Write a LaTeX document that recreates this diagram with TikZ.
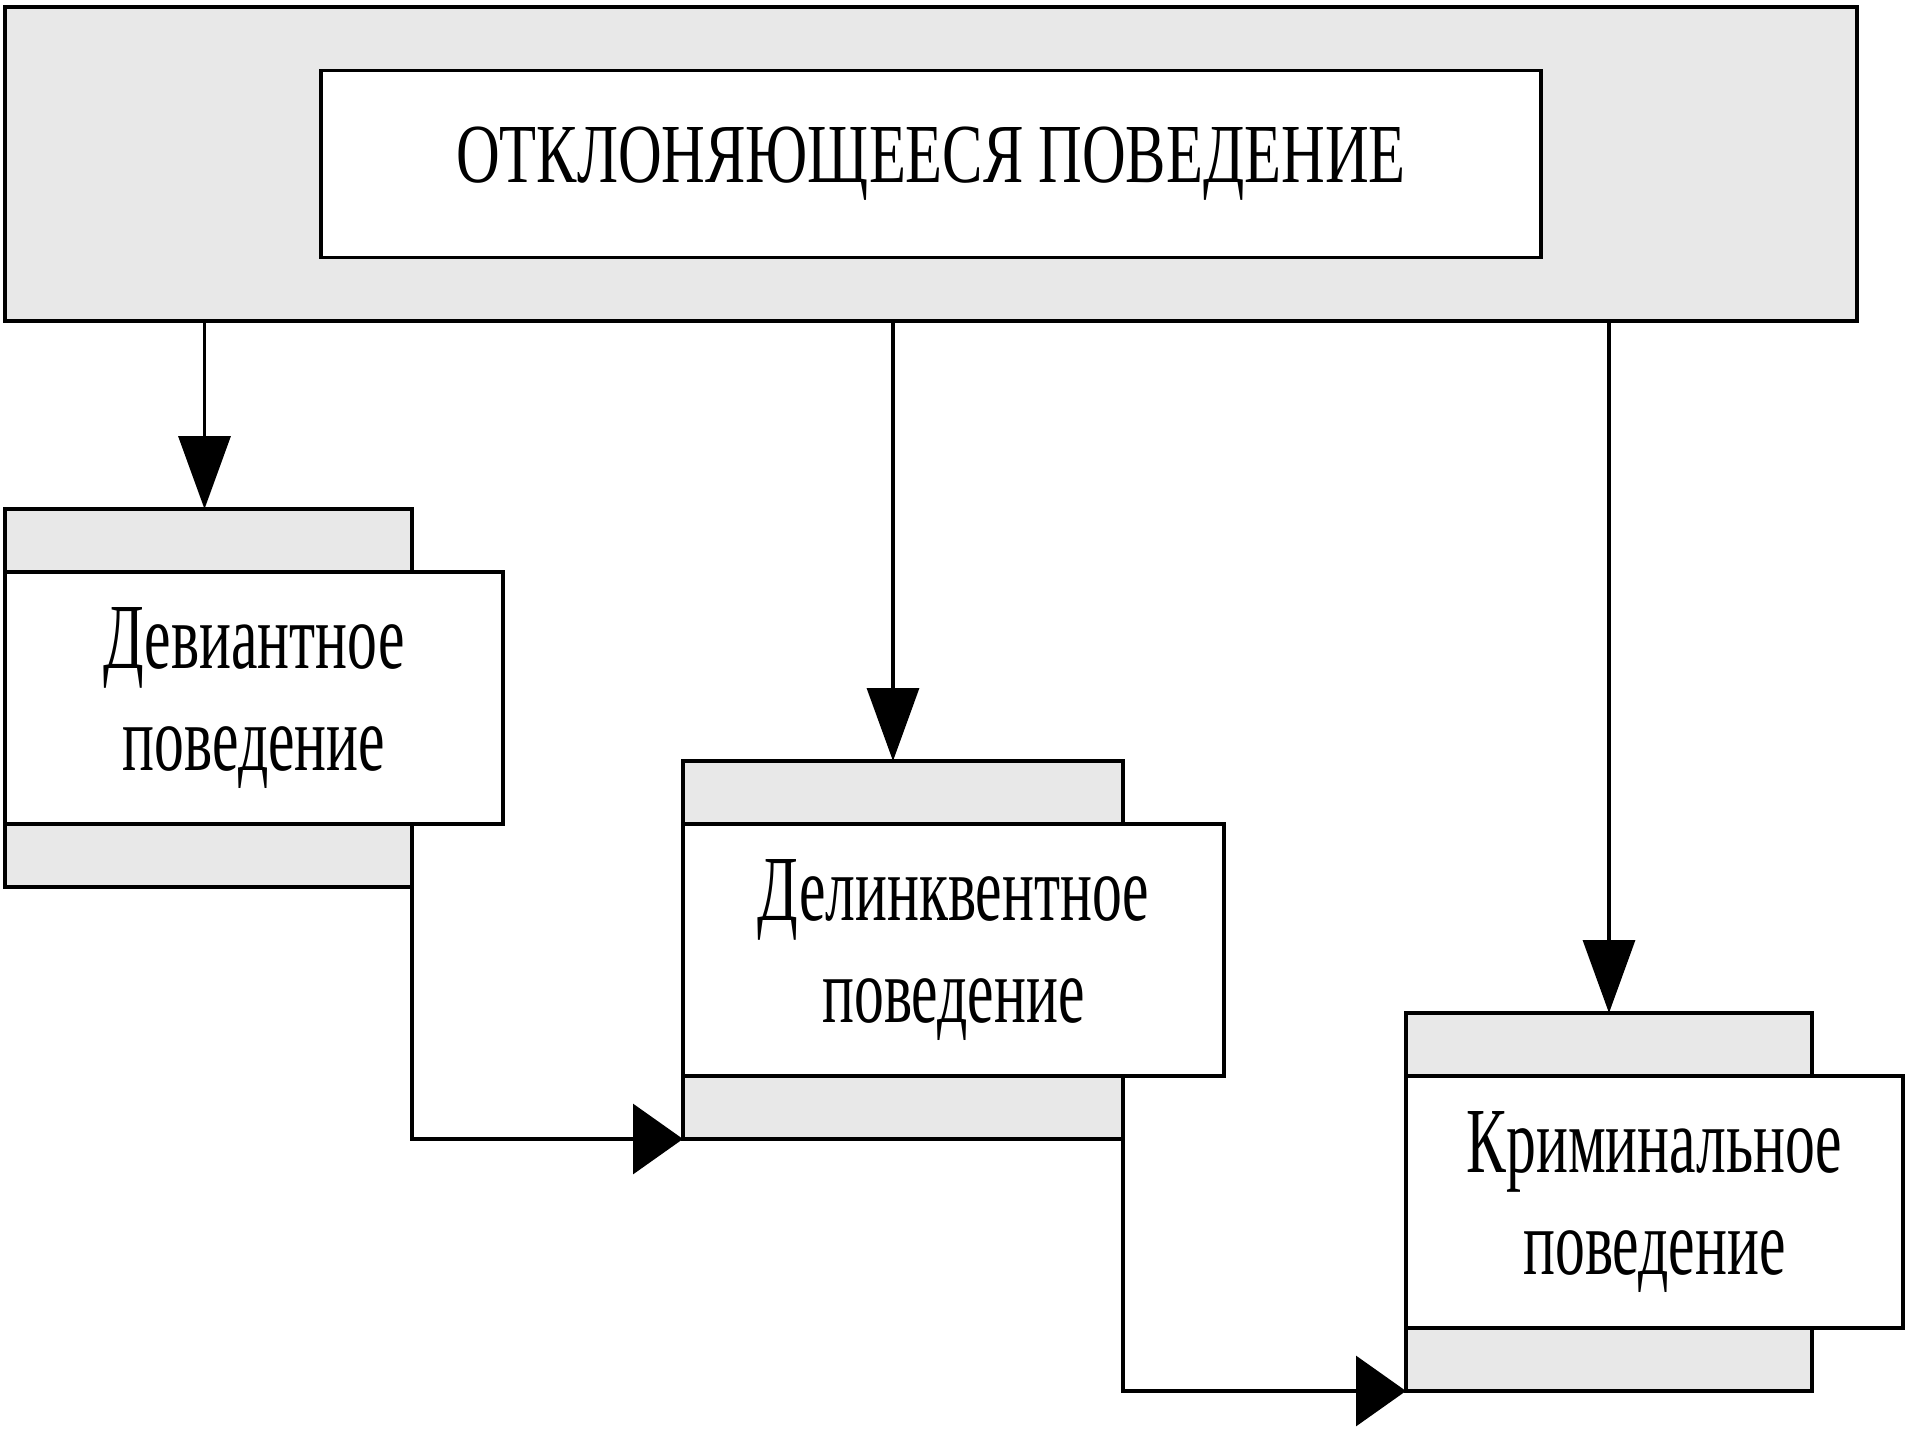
\documentclass[tikz,border=0pt]{standalone}
\usepackage{fontspec}
\setmainfont{Liberation Serif}
\newfontfamily\titlefont[FakeStretch=0.72]{Liberation Serif}
\newfontfamily\cardfont[FakeStretch=0.64]{Liberation Serif}
\usetikzlibrary{positioning}
\usetikzlibrary{arrows.meta}
\definecolor{tabgray}{RGB}{232,232,232}
\tikzset{
	every path/.style={line width=0.034cm},
	frame/.style={draw, fill=tabgray, minimum width=18.52cm, minimum height=3.14cm, inner sep=0pt, outer sep=0pt},
	titlebox/.style={draw, fill=white, minimum width=12.2cm, minimum height=1.87cm, outer sep=0pt, font=\titlefont\fontsize{23.9}{28}\selectfont},
	card/.style={draw, fill=white, minimum height=2.52cm, inner sep=0pt, outer sep=0pt, align=center, font=\cardfont\fontsize{26.5}{29.2}\selectfont},
	tab/.style={draw, fill=tabgray, minimum height=0.63cm, inner sep=0pt, outer sep=0pt},
	downarrow/.style={-{Triangle[length=0.73cm, width=0.52cm]}},
	sidearrow/.style={-{Triangle[length=0.5cm, width=0.7cm]}}
}

\begin{document}
\begin{tikzpicture}
	\useasboundingbox[fill=white] (0,0) rectangle (19.07,-14.40);
	% Top block
	\node (deviation) [frame] at (9.31,-1.64) {};
	\node (title) [titlebox] at (deviation.center) {ОТКЛОНЯЮЩЕЕСЯ ПОВЕДЕНИЕ};
	
	% Kinds of behaviour
	\node (deviant) [card, minimum width=4.98cm, anchor=north west] at (0.05,-5.72) {Девиантное\\поведение};
	\node (devianttop) [tab, minimum width=4.07cm, above right=0cm and 0cm of deviant.north west] {};
	\node (deviantbot) [tab, minimum width=4.07cm, below right=0cm and 0cm of deviant.south west] {};
	
	\node (delinq) [card, minimum width=5.41cm, anchor=north west] at (6.83,-8.24) {Делинквентное\\поведение};
	\node (delinqtop) [tab, minimum width=4.40cm, above right=0cm and 0cm of delinq.north west] {};
	\node (delinqbot) [tab, minimum width=4.40cm, below right=0cm and 0cm of delinq.south west] {};
	
	\node (crim) [card, minimum width=4.97cm, anchor=north west] at (14.06,-10.76) {Криминальное\\поведение};
	\node (crimtop) [tab, minimum width=4.06cm, above right=0cm and 0cm of crim.north west] {};
	\node (crimbot) [tab, minimum width=4.06cm, below right=0cm and 0cm of crim.south west] {};
	
	\draw[downarrow] ([xshift=-0.4mm]deviation.south -| devianttop.north) -- ([xshift=-0.4mm]devianttop.north);
	\draw[downarrow] ([xshift=-1mm]deviation.south -| delinqtop.north) -- ([xshift=-1mm]delinqtop.north);
	\draw[downarrow] (deviation.south -| crimtop.north) -- (crimtop.north);
	
	\draw[sidearrow] (deviantbot.south east) |- (delinqbot.south west);
	\draw[sidearrow] (delinqbot.south east) |- (crimbot.south west);
\end{tikzpicture}
\end{document}
